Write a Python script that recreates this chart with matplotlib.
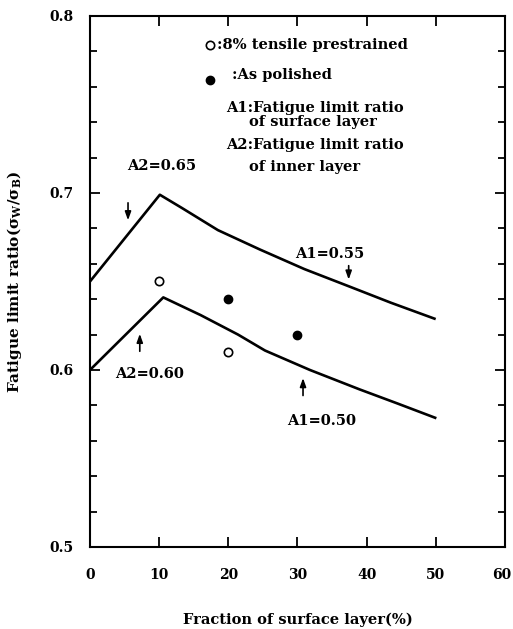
import matplotlib
matplotlib.use("Agg")
import matplotlib.pyplot as plt
import matplotlib.transforms as mtrans
import numpy as np

plt.rcParams['font.family'] = ['DejaVu Serif']
plt.rcParams['font.weight'] = 'bold'
plt.rcParams['mathtext.fontset'] = 'dejavuserif'
plt.rcParams['mathtext.default'] = 'bf'

# curves
upper_x = [0, 10.1, 13.3, 18.5, 24.6, 31.0, 37.6, 43.5, 49.8]
upper_y = [0.650, 0.699, 0.6915, 0.679, 0.668, 0.657, 0.647, 0.638, 0.629]
lower_x = [0, 10.6, 16.0, 21.4, 25.3, 31.8, 39.0, 44.5, 49.9]
lower_y = [0.600, 0.641, 0.631, 0.620, 0.611, 0.600, 0.589, 0.581, 0.573]

# measured points
open_x = [10, 20]
open_y = [0.65, 0.61]
solid_x = [20, 30]
solid_y = [0.64, 0.62]

fig = plt.figure(figsize=(5.13, 6.29), dpi=100)
ax = fig.add_axes([0.1754, 0.1304, 0.809, 0.8442])

ax.plot(upper_x, upper_y, color='black', lw=1.9)
ax.plot(lower_x, lower_y, color='black', lw=1.9)
ax.scatter(open_x, open_y, s=36, facecolors='white', edgecolors='black', linewidths=1.2, zorder=3)
ax.scatter(solid_x, solid_y, s=36, color='black', zorder=3)

ax.set_xlim(0, 60)
ax.set_ylim(0.5, 0.8)
ax.set_xticks([0, 10, 20, 30, 40, 50, 60])
ax.set_yticks([0.5, 0.6, 0.7, 0.8])
ax.set_yticks(np.arange(0.5, 0.8, 0.02), minor=True)
ax.tick_params(which='both', direction='in', top=True, right=True, width=1.3, labelsize=10)
ax.tick_params(which='major', length=7)
ax.tick_params(which='minor', length=5)
ax.tick_params(axis='x', pad=15)
ax.tick_params(axis='y', pad=12)
for s in ax.spines.values():
    s.set_linewidth(1.5)

# last x label sits right at the figure edge, nudge it in a bit
last = ax.get_xticklabels()[-1]
last.set_transform(last.get_transform() + mtrans.ScaledTranslation(-3 / 100, 0, fig.dpi_scale_trans))

ax.set_xlabel('Fraction of surface layer(%)', fontsize=10.5, fontweight='bold', va='center')
ax.xaxis.set_label_coords(0.5, -0.1375)
ax.set_ylabel(r'Fatigue limit ratio($\sigma_W$/$\sigma_B$)', fontsize=11, fontweight='bold', va='center')
ax.yaxis.set_label_coords(-0.181, 0.5)

# legend-like notes
fs = 10.5
ax.scatter([17.3], [0.7836], s=36, facecolors='white', edgecolors='black', linewidths=1.2)
ax.text(18.3, 0.7836, ':8% tensile prestrained', fontsize=fs, va='center')
ax.scatter([17.3], [0.7638], s=36, color='black')
ax.text(20.6, 0.7667, ':As polished', fontsize=fs, va='center')
ax.text(19.7, 0.748, 'A1:Fatigue limit ratio', fontsize=fs, va='center')
ax.text(23.0, 0.740, 'of surface layer', fontsize=fs, va='center')
ax.text(19.7, 0.7271, 'A2:Fatigue limit ratio', fontsize=fs, va='center')
ax.text(23.0, 0.7147, 'of inner layer', fontsize=fs, va='center')

arrow = dict(arrowstyle='-|>,head_length=0.5,head_width=0.18', color='black', lw=1.2)
ax.text(5.3, 0.715, 'A2=0.65', fontsize=fs, va='center')
ax.annotate('', xy=(5.5, 0.683), xytext=(5.5, 0.696), arrowprops=arrow)
ax.text(29.6, 0.6655, 'A1=0.55', fontsize=fs, va='center')
ax.annotate('', xy=(37.4, 0.6495), xytext=(37.4, 0.6605), arrowprops=arrow)
ax.text(3.7, 0.598, 'A2=0.60', fontsize=fs, va='center')
ax.annotate('', xy=(7.2, 0.622), xytext=(7.2, 0.609), arrowprops=arrow)
ax.text(28.5, 0.571, 'A1=0.50', fontsize=fs, va='center')
ax.annotate('', xy=(30.8, 0.597), xytext=(30.8, 0.584), arrowprops=arrow)

fig.savefig('out.png', dpi=100)
